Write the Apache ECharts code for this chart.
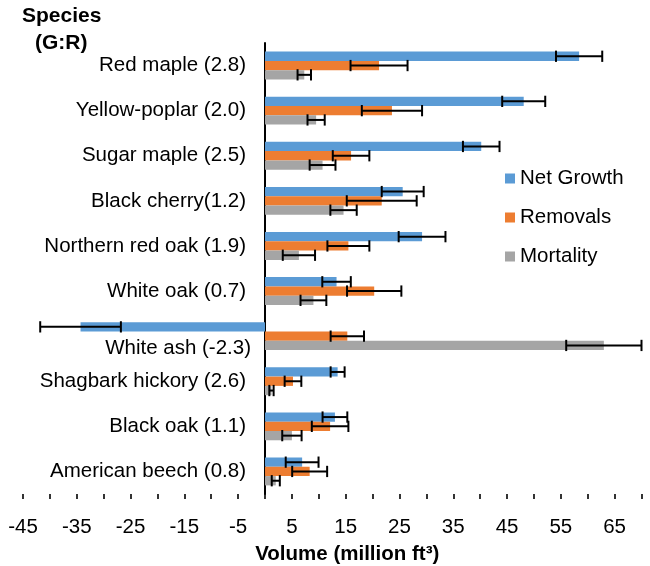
<!DOCTYPE html>
<html>
<head>
<meta charset="utf-8">
<title>Volume by species</title>
<script src="https://cdn.jsdelivr.net/npm/echarts@6/dist/echarts.min.js"></script>
<style>
  html, body { margin: 0; padding: 0; background: #fff; }
  #chart { width: 650px; height: 566px; }
</style>
</head>
<body>
<div id="chart"></div>
<script>
// Species with growth:removal ratio in brackets, top to bottom
const categories = [
  'Red maple (2.8)', 'Yellow-poplar (2.0)', 'Sugar maple (2.5)', 'Black cherry(1.2)',
  'Northern red oak (1.9)', 'White oak (0.7)', 'White ash (-2.3)',
  'Shagbark hickory (2.6)', 'Black oak (1.1)', 'American beech (0.8)'
];

// Volumes (million ft³) and their error half-widths
const netGrowth      = [58.4, 48.1, 40.2, 25.6, 29.2, 13.3, -34.3, 13.5, 13.0, 6.9];
const netGrowthErr   = [4.3, 4.0, 3.4, 3.9, 4.35, 2.65, 7.5, 1.3, 2.3, 3.05];
const removals       = [21.2, 23.6, 16.0, 21.7, 15.5, 20.3, 15.3, 5.2, 12.1, 8.3];
const removalsErr    = [5.3, 5.6, 3.4, 6.5, 3.9, 5.05, 3.1, 1.55, 3.4, 3.25];
const mortality      = [7.3, 9.5, 10.7, 14.6, 6.3, 9.0, 63.0, 1.2, 5.0, 2.0];
const mortalityErr   = [1.25, 1.6, 2.4, 2.45, 3.0, 2.4, 7.0, 0.4, 1.8, 0.75];

const seriesNames = ['Net Growth', 'Removals', 'Mortality'];
const seriesColors = ['#5B9BD5', '#ED7D31', '#A5A5A5'];

// Value axis: ticks every 5, labels on the odd multiples of 5
const xMin = -45, xMax = 70, xStep = 5;

const FONT = 'Liberation Sans, Arial, Helvetica, sans-serif';
const BAR_FRAC = 0.206;   // bar thickness as a share of the category band

function errorBarSeries(values, errs, idx) {
  return {
    type: 'custom',
    name: seriesNames[idx] + ' error',
    z: 5,
    silent: true,
    encode: { x: 0, y: 1 },
    data: values.map((v, i) => [v, i, errs[i]]),
    renderItem: function (params, api) {
      const v = api.value(0);
      const c = api.value(1);
      const e = api.value(2);
      const band = api.size([0, 1])[1];
      const dy = (idx - 1) * BAR_FRAC * band;
      const lo = api.coord([v - e, c]);
      const hi = api.coord([v + e, c]);
      const y = lo[1] + dy;
      const half = band * 0.125;
      const style = { stroke: '#000', lineWidth: 2 };
      return {
        type: 'group',
        children: [
          { type: 'line', shape: { x1: lo[0], y1: y, x2: hi[0], y2: y }, style: style },
          { type: 'line', shape: { x1: lo[0], y1: y - half, x2: lo[0], y2: y + half }, style: style },
          { type: 'line', shape: { x1: hi[0], y1: y - half, x2: hi[0], y2: y + half }, style: style }
        ]
      };
    }
  };
}

const barSeries = [netGrowth, removals, mortality].map((vals, idx) => ({
  type: 'bar',
  name: seriesNames[idx],
  data: vals,
  barWidth: (BAR_FRAC * 100) + '%',
  barGap: '0%',
  itemStyle: { color: seriesColors[idx] }
}));

const chart = echarts.init(document.getElementById('chart'), null, { renderer: 'canvas' });

chart.setOption({
  animation: false,
  backgroundColor: '#fff',
  textStyle: { fontFamily: FONT, color: '#000' },
  grid: { left: 23, right: 8.5, top: 43, bottom: 72, containLabel: false, outerBoundsMode: 'none' },
  legend: {
    orient: 'vertical',
    left: 500,
    top: 163,
    itemWidth: 10,
    itemHeight: 10,
    itemGap: 18,
    icon: 'rect',
    data: seriesNames,
    textStyle: { fontFamily: FONT, fontSize: 20.5, color: '#000' }
  },
  graphic: [
    { type: 'text', left: 22, top: 6, style: { text: 'Species', font: 'bold 21px ' + FONT, fill: '#000' } },
    { type: 'text', left: 35, top: 33, style: { text: '(G:R)', font: 'bold 21px ' + FONT, fill: '#000' } }
  ],
  xAxis: {
    type: 'value',
    min: xMin,
    max: xMax,
    interval: xStep,
    name: 'Volume (million ft³)',
    nameLocation: 'middle',
    nameGap: 50,
    nameTextStyle: { fontFamily: FONT, fontSize: 20.5, fontWeight: 'bold', color: '#000', padding: [0, 0, 0, 30] },
    axisLine: { onZero: false, lineStyle: { color: '#000', width: 1.6 } },
    axisTick: { show: true, inside: false, length: 5, lineStyle: { color: '#000', width: 1.6 } },
    splitLine: { show: false },
    axisLabel: {
      margin: 23,
      fontFamily: FONT,
      fontSize: 20.5,
      color: '#000',
      showMinLabel: true,
      showMaxLabel: true,
      formatter: function (v) {
        return (Math.round(v) % 10 !== 0) ? String(Math.round(v)) : '';
      }
    }
  },
  yAxis: {
    type: 'category',
    inverse: true,
    data: categories,
    axisLine: { onZero: false, lineStyle: { color: '#000', width: 2 } },
    axisTick: { show: false },
    axisLabel: {
      margin: 14,
      interval: 0,
      fontFamily: FONT,
      fontSize: 20.5,
      color: '#000',
      formatter: function (v) {
        return v.indexOf('White ash') === 0 ? '{w|' + v + '}' : '{n|' + v + '}';
      },
      rich: {
        n: { fontFamily: FONT, fontSize: 20.5, color: '#000', padding: [0, 5, 0, 0] },
        w: { fontFamily: FONT, fontSize: 20.5, color: '#000', padding: [24, 0, 0, 0] }
      }
    }
  },
  series: barSeries.concat([
    errorBarSeries(netGrowth, netGrowthErr, 0),
    errorBarSeries(removals, removalsErr, 1),
    errorBarSeries(mortality, mortalityErr, 2)
  ])
});

// Move the category axis (line and labels together) onto x = 0
const zeroPx = chart.convertToPixel({ xAxisIndex: 0 }, 0);
const leftPx = chart.convertToPixel({ xAxisIndex: 0 }, xMin);
chart.setOption({ yAxis: { offset: -(zeroPx - leftPx) } });
</script>
</body>
</html>
